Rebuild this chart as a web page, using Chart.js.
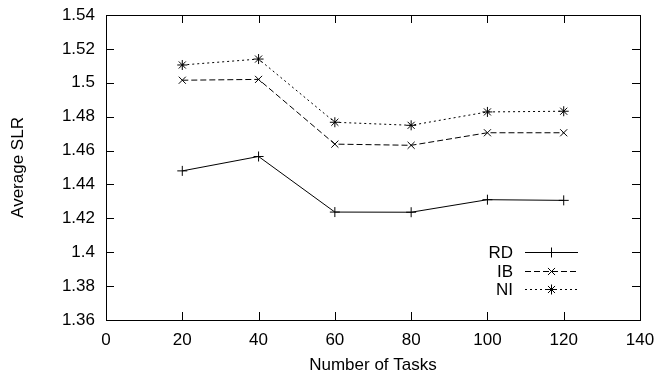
<!DOCTYPE html>
<html><head><meta charset="utf-8">
<script src="https://cdn.jsdelivr.net/npm/chart.js@4/dist/chart.umd.min.js"></script>
<style>html,body{margin:0;padding:0;background:#fff}#wrap{width:659px;height:376px}</style>
</head><body><div id="wrap"><canvas id="c" width="659" height="376"></canvas></div>
<script>
const tasks = [20, 40, 60, 80, 100, 120];
const rdValues = [1.448, 1.4565, 1.4237, 1.4236, 1.431, 1.4306];
const ibValues = [1.5015, 1.502, 1.4638, 1.4631, 1.4705, 1.4705];
const niValues = [1.5105, 1.514, 1.4767, 1.4749, 1.4828, 1.4832];
const seriesNames = ['RD', 'IB', 'NI'];
const xTicks = [0, 20, 40, 60, 80, 100, 120, 140];
const yTicks = [1.36, 1.38, 1.40, 1.42, 1.44, 1.46, 1.48, 1.50, 1.52, 1.54];
const FONT = 'Liberation Sans, Arial, Helvetica, sans-serif';
const FS = 17;

function pts(vals){ return tasks.map((x,i)=>({x:x,y:vals[i]})); }

const frame = {
  id:'frame',
  afterDraw(chart){
    const {ctx, chartArea:a, scales:{x,y}} = chart;
    ctx.save();
    ctx.strokeStyle='#000'; ctx.lineWidth=1;
    ctx.strokeRect(Math.round(a.left)+0.5, Math.round(a.top)+0.5, Math.round(a.right-a.left), Math.round(a.bottom-a.top));
    const L=8;
    ctx.beginPath();
    xTicks.forEach(v=>{const px=Math.round(x.getPixelForValue(v))+0.5;
      ctx.moveTo(px,a.bottom); ctx.lineTo(px,a.bottom-L);
      ctx.moveTo(px,a.top); ctx.lineTo(px,a.top+L);});
    yTicks.forEach(v=>{const py=Math.round(y.getPixelForValue(v))+0.5;
      ctx.moveTo(a.left,py); ctx.lineTo(a.left+L,py);
      ctx.moveTo(a.right,py); ctx.lineTo(a.right-L,py);});
    ctx.stroke();
    // legend
    const textRight=513, x0=525, x1=578, yStart=252, dy=18.5;
    ctx.font=FS+'px '+FONT; ctx.textAlign='right'; ctx.textBaseline='middle'; ctx.fillStyle='#000';
    chart.data.datasets.forEach((ds,i)=>{
      const yy=Math.round(yStart+i*dy)+0.5;
      ctx.fillText(ds.label, textRight, yy+1);
      ctx.setLineDash(ds.borderDash||[]);
      ctx.beginPath(); ctx.moveTo(x0,yy); ctx.lineTo(x1,yy); ctx.stroke();
      ctx.setLineDash([]);
      Chart.helpers.drawPoint(ctx,{pointStyle:ds.pointStyle,radius:ds.pointRadius,borderWidth:1},(x0+x1)/2,yy);
    });
    ctx.restore();
  }
};

new Chart(document.getElementById('c'),{
  type:'line',
  data:{datasets:[
    {label:seriesNames[0], data:pts(rdValues), borderDash:[], pointStyle:'cross'},
    {label:seriesNames[1], data:pts(ibValues), borderDash:[6,3], pointStyle:'crossRot'},
    {label:seriesNames[2], data:pts(niValues), borderDash:[2,3], pointStyle:'star'}
  ].map(d=>Object.assign(d,{borderColor:'#000',backgroundColor:'#000',borderWidth:1,pointRadius:5,pointBorderWidth:1,pointBorderColor:'#000',tension:0,fill:false}))},
  options:{
    responsive:false, animation:false,
    layout:{padding:{left:0,right:19,top:15,bottom:0}},
    plugins:{legend:{display:false},tooltip:{enabled:false}},
    scales:{
      x:{type:'linear',min:0,max:140,
        afterBuildTicks(s){s.ticks=xTicks.map(v=>({value:v}));},
        afterFit(s){s.height=56; s.paddingLeft=0; s.paddingRight=0;},
        grid:{display:false,drawTicks:false}, border:{display:false},
        ticks:{padding:10,color:'#000',font:{family:FONT,size:FS},maxRotation:0},
        title:{display:true,text:'Number of Tasks',color:'#000',font:{family:FONT,size:FS},padding:{top:5,bottom:0}}},
      y:{type:'linear',min:1.36,max:1.54,
        afterBuildTicks(s){s.ticks=yTicks.map(v=>({value:v}));},
        afterFit(s){s.width=106; s.paddingTop=0; s.paddingBottom=0;},
        grid:{display:false,drawTicks:false}, border:{display:false},
        ticks:{padding:11,color:'#000',font:{family:FONT,size:FS},callback:v=>String(+v.toFixed(2))},
        title:{display:true,text:'Average SLR',color:'#000',font:{family:FONT,size:FS},padding:{top:8,bottom:0}}}
    }
  },
  plugins:[frame]
});
</script></body></html>
